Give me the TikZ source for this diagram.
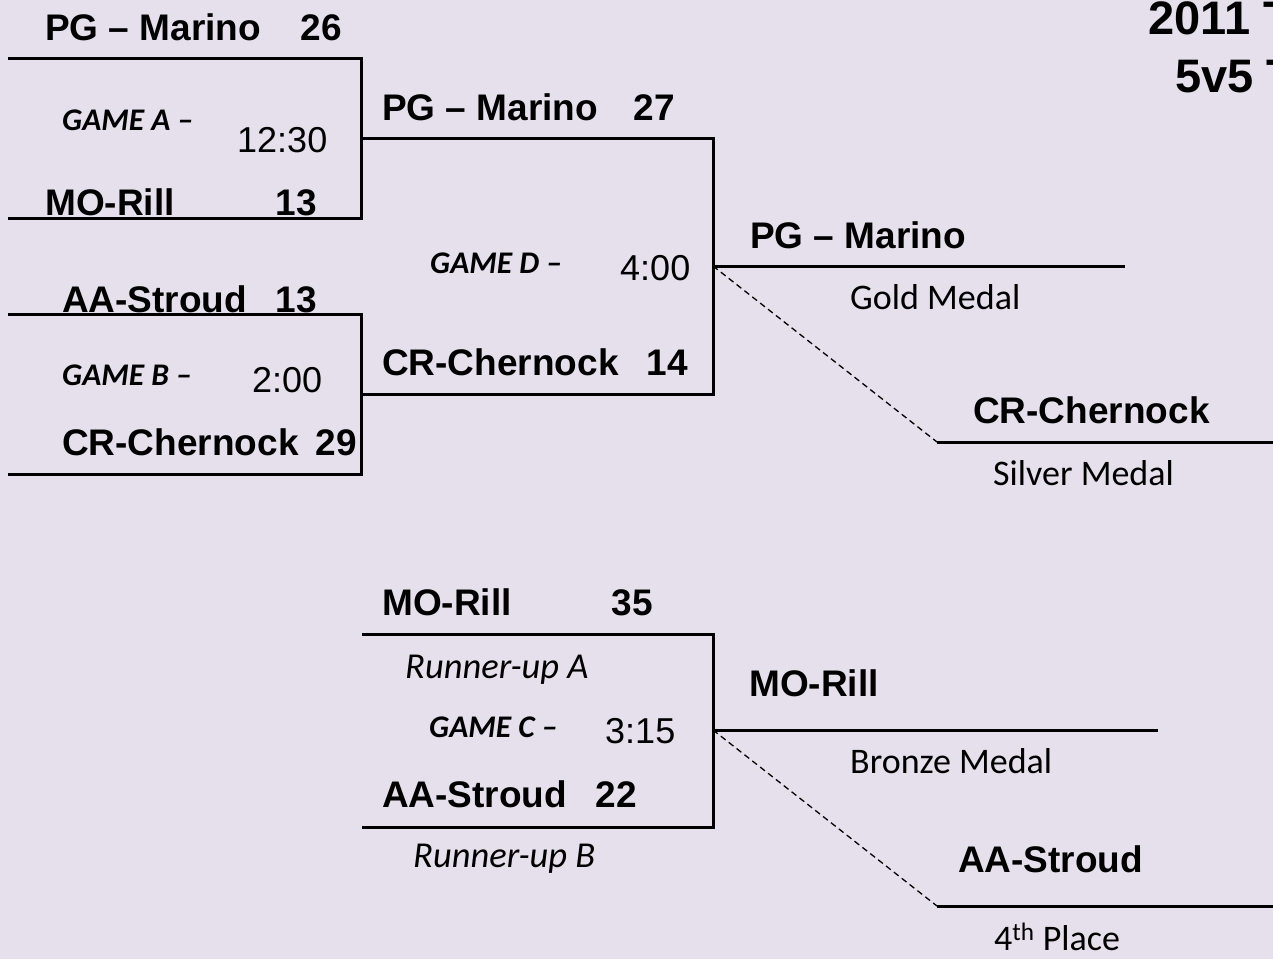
\documentclass[tikz,border=0pt]{standalone}
\usepackage{fontspec}
\setmainfont{Liberation Sans}
\newfontfamily\calfont{Carlito}
\definecolor{bg}{HTML}{E5E0EC}
\begin{document}
\begin{tikzpicture}[x=1pt,y=-1pt,
  team/.style={font=\fontsize{37}{40}\selectfont\bfseries, inner sep=0pt, anchor=base west},
  score/.style={font=\fontsize{37}{40}\selectfont\bfseries, inner sep=0pt, anchor=base east},
  gamelbl/.style={font=\calfont\fontsize{31.5}{34}\selectfont\bfseries\itshape, inner sep=0pt, anchor=base west},
  timelbl/.style={font=\fontsize{36}{40}\selectfont, inner sep=0pt, anchor=base west},
  medal/.style={font=\calfont\fontsize{36}{40}\selectfont, inner sep=0pt, anchor=base west},
  runner/.style={font=\calfont\fontsize{36.5}{40}\selectfont\itshape, inner sep=0pt, anchor=base west},
  titlelbl/.style={font=\fontsize{47}{50}\selectfont\bfseries, inner sep=0pt, anchor=base west},
  bracket/.style={draw=black, line width=3pt},
  dashline/.style={draw=black, line width=1.3pt, dash pattern=on 6pt off 4pt}]
\useasboundingbox[fill=bg] (0,0) rectangle (1273,959);

% title (cut at the right edge, as in the reference)
\node[titlelbl] (t1) at (1148,34) {2011 T};
\node[titlelbl] (t2) at (1175,92) {5v5 T};

% coordinates of the bracket
\coordinate (a1) at (8,58);   \coordinate (a2) at (361,58);
\coordinate (a3) at (361,218); \coordinate (a4) at (8,218);
\coordinate (am) at (361,138);
\coordinate (b1) at (8,314);  \coordinate (b2) at (361,314);
\coordinate (b3) at (361,474); \coordinate (b4) at (8,474);
\coordinate (bm) at (361,394);
\coordinate (d1) at (713,138); \coordinate (d2) at (713,394);
\coordinate (dm) at (713,266);
\coordinate (gold) at (1125,266);
\coordinate (s1) at (937,442); \coordinate (s2) at (1273,442);
\coordinate (c1) at (362,634); \coordinate (c2) at (713,634);
\coordinate (c3) at (713,827); \coordinate (c4) at (362,827);
\coordinate (cm) at (713,730);
\coordinate (bronze) at (1158,730);
\coordinate (f1) at (937,906); \coordinate (f2) at (1273,906);

% lines
\draw[bracket] (a1) -- (a2) -- (a3) -- (a4);
\draw[bracket] (am) -- (d1) -- (d2) -- (bm);
\draw[bracket] (b1) -- (b2) -- (b3) -- (b4);
\draw[bracket] (dm) -- (gold);
\draw[dashline] (dm) -- (s1);
\draw[bracket] (s1) -- (s2);
\draw[bracket] (c1) -- (c2) -- (c3) -- (c4);
\draw[bracket] (cm) -- (bronze);
\draw[dashline] (cm) -- (f1);
\draw[bracket] (f1) -- (f2);

% game A
\node[team] (pga) at (45,40) {PG – Marino};
\node[score] (pgas) at (342,40) {26};
\node[gamelbl] (ga) at (62,130) {GAME A –};
\node[timelbl] (gat) at (237,152) {12:30};
\node[team] (moa) at (45,215) {MO-Rill};
\node[score] (moas) at (317,215) {13};

% game B
\node[team] (aab) at (62,312) {AA-Stroud};
\node[score] (aabs) at (317,312) {13};
\node[gamelbl] (gb) at (62,385) {GAME B –};
\node[timelbl] (gbt) at (252,392) {2:00};
\node[team] (crb) at (62,455) {CR-Chernock};
\node[score] (crbs) at (357,455) {29};

% game D
\node[team] (pgd) at (382,120) {PG – Marino};
\node[score] (pgds) at (675,120) {27};
\node[gamelbl] (gd) at (430,273) {GAME D –};
\node[timelbl] (gdt) at (620,280) {4:00};
\node[team] (crd) at (382,375) {CR-Chernock};
\node[score] (crds) at (688,375) {14};

% final places
\node[team] (gw) at (750,248) {PG – Marino};
\node[medal] (gm) at (850,309) {Gold Medal};
\node[team] (sw) at (973,423) {CR-Chernock};
\node[medal] (sm) at (993,485) {Silver Medal};

% game C
\node[team] (moc) at (382,615) {MO-Rill};
\node[score] (mocs) at (653,615) {35};
\node[runner] (ra) at (405,678) {Runner-up A};
\node[gamelbl] (gc) at (429,737) {GAME C –};
\node[timelbl] (gct) at (605,743) {3:15};
\node[team] (aac) at (382,807) {AA-Stroud};
\node[score] (aacs) at (637,807) {22};
\node[runner] (rb) at (413,867) {Runner-up B};

% bronze / fourth
\node[team] (bw) at (749,696) {MO-Rill};
\node[medal] (bm2) at (850,773) {Bronze Medal};
\node[team] (fw) at (958,872) {AA-Stroud};
\node[medal] (fm) at (994,950) {4\textsuperscript{th} Place};
\end{tikzpicture}
\end{document}
